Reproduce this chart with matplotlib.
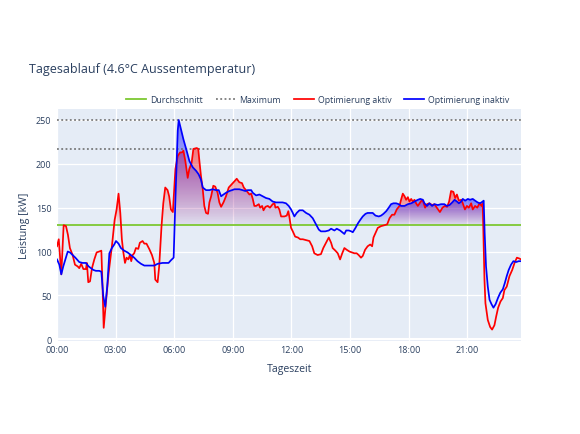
import numpy as np
import matplotlib.pyplot as plt
from matplotlib.colors import to_rgb
from matplotlib.patches import PathPatch

# Werte (Stunden, kW)
t_aktiv = [0.00, 0.09, 0.22, 0.34, 0.46, 0.56, 0.66, 0.80, 0.92, 1.06, 1.14, 1.24, 1.35, 1.48,
           1.53, 1.60, 1.69, 1.79, 1.91, 2.03, 2.16, 2.27, 2.32, 2.39, 2.50, 2.64, 2.81, 2.95,
           3.05, 3.15, 3.24, 3.32, 3.39, 3.48, 3.56, 3.65, 3.73, 3.80, 3.87, 3.95, 4.04, 4.16,
           4.24, 4.38, 4.47, 4.58, 4.72, 4.86, 4.98, 5.03, 5.15, 5.23, 5.35, 5.44, 5.54, 5.66,
           5.74, 5.83, 5.93, 6.06, 6.18, 6.30, 6.40, 6.47, 6.57, 6.69, 6.77, 6.89, 6.98, 7.15,
           7.23, 7.29, 7.37, 7.46, 7.54, 7.63, 7.73, 7.80, 7.89, 8.00, 8.10, 8.22, 8.31, 8.40,
           8.52, 8.65, 8.79, 8.96, 9.08, 9.20, 9.33, 9.47, 9.56, 9.71, 9.85, 9.94, 10.02, 10.10,
           10.19, 10.33, 10.40, 10.50, 10.57, 10.67, 10.79, 10.90, 11.04, 11.13, 11.18, 11.30,
           11.38, 11.47, 11.64, 11.76, 11.84, 11.89, 11.98, 12.07, 12.19, 12.33, 12.45, 12.58,
           12.75, 12.92, 13.06, 13.17, 13.34, 13.51, 13.63, 13.77, 13.91, 14.03, 14.11, 14.25,
           14.37, 14.49, 14.60, 14.71, 14.83, 14.97, 15.10, 15.22, 15.34, 15.44, 15.56, 15.65,
           15.77, 15.90, 16.03, 16.13, 16.20, 16.30, 16.42, 16.59, 16.76, 16.90, 17.02, 17.15,
           17.27, 17.39, 17.53, 17.61, 17.70, 17.79, 17.87, 17.96, 18.04, 18.13, 18.21, 18.30,
           18.38, 18.47, 18.59, 18.69, 18.76, 18.84, 18.94, 19.06, 19.20, 19.32, 19.44, 19.60,
           19.73, 19.85, 19.97, 20.07, 20.17, 20.29, 20.38, 20.47, 20.57, 20.69, 20.77, 20.88,
           20.98, 21.08, 21.20, 21.28, 21.40, 21.51, 21.63, 21.73, 21.79, 21.88, 21.93, 22.05,
           22.17, 22.27, 22.39, 22.48, 22.58, 22.70, 22.82, 22.90, 23.02, 23.16, 23.30, 23.42,
           23.54, 23.67, 23.75]
p_aktiv = [106, 114, 74, 130, 129, 119, 104, 96, 85, 83, 81, 86, 80, 80,
           87, 65, 66, 81, 91, 99, 100, 101, 68, 13, 41, 75, 106, 136,
           148, 166, 144, 114, 100, 87, 93, 91, 96, 89, 96, 98, 104, 103,
           110, 112, 109, 109, 103, 96, 87, 68, 65, 83, 129, 155, 173, 170,
           163, 148, 145, 194, 209, 213, 213, 215, 203, 184, 194, 201, 217, 218,
           217, 203, 186, 171, 152, 144, 143, 156, 163, 175, 174, 167, 156, 151,
           156, 163, 173, 177, 180, 183, 179, 178, 173, 169, 165, 166, 160, 152,
           152, 154, 150, 152, 147, 151, 152, 150, 154, 155, 150, 151,
           148, 140, 140, 141, 146, 140, 127, 123, 117, 116, 114, 114,
           113, 112, 106, 98, 96, 97, 104, 110, 116, 110, 104, 101,
           98, 91, 98, 104, 102, 100, 99, 98, 98, 96, 93, 95,
           102, 106, 108, 106, 116, 121, 127, 129, 130, 131, 138, 142,
           142, 148, 152, 159, 166, 163, 159, 162, 157, 160, 157, 159,
           155, 152, 156, 159, 156, 150, 154, 155, 153, 154, 150, 145,
           150, 152, 151, 157, 169, 168, 161, 165, 158, 159, 155, 148,
           152, 150, 155, 148, 152, 150, 155, 152, 155, 68, 41, 22,
           14, 11, 16, 26, 36, 43, 47, 56, 60, 72, 79, 87,
           93, 92, 91]

t_inaktiv = [0.00, 0.12, 0.22, 0.32, 0.43, 0.55, 0.66, 0.80, 0.94, 1.06, 1.14, 1.31, 1.48, 1.62,
             1.74, 1.86, 1.99, 2.16, 2.27, 2.37, 2.47, 2.57, 2.68, 2.81, 2.93, 3.02, 3.15, 3.27,
             3.44, 3.61, 3.78, 3.95, 4.12, 4.30, 4.47, 4.72, 4.98, 5.15, 5.40, 5.71, 5.83, 5.97,
             6.06, 6.18, 6.23, 6.35, 6.47, 6.61, 6.78, 6.95, 7.12, 7.25, 7.37, 7.46, 7.63, 7.80,
             7.97, 8.14, 8.28, 8.40, 8.52, 8.65, 8.82, 8.96, 9.08, 9.33, 9.50, 9.64, 9.76, 9.94,
             10.02, 10.19, 10.36, 10.53, 10.70, 10.87, 11.04, 11.21, 11.38, 11.55, 11.72, 11.86,
             11.98, 12.07, 12.15, 12.27, 12.41, 12.58, 12.75, 12.92, 13.09, 13.26, 13.40, 13.51,
             13.73, 13.91, 14.03, 14.20, 14.32, 14.49, 14.60, 14.71, 14.80, 14.94, 15.06, 15.14,
             15.28, 15.40, 15.52, 15.65, 15.79, 15.90, 16.03, 16.16, 16.30, 16.47, 16.59, 16.71,
             16.85, 16.98, 17.10, 17.22, 17.36, 17.49, 17.61, 17.79, 17.96, 18.13, 18.30, 18.47,
             18.59, 18.73, 18.81, 18.94, 19.06, 19.20, 19.32, 19.49, 19.66, 19.83, 19.95, 20.09,
             20.23, 20.35, 20.47, 20.57, 20.69, 20.77, 20.89, 21.03, 21.14, 21.28, 21.40, 21.53,
             21.65, 21.79, 21.84, 21.89, 21.96, 22.05, 22.14, 22.24, 22.34, 22.45, 22.57, 22.69,
             22.82, 22.92, 23.02, 23.12, 23.24, 23.36, 23.50, 23.63, 23.75]
p_inaktiv = [91, 85, 74, 83, 91, 100, 99, 96, 93, 90, 88, 87, 87, 83,
             81, 79, 78, 78, 77, 49, 37, 60, 98, 104, 108, 112, 109, 104,
             101, 99, 96, 93, 89, 86, 84, 84, 84, 86, 87, 87, 90, 93,
             159, 238, 250, 239, 228, 217, 203, 196, 192, 188, 182, 173, 170, 170,
             171, 170, 170, 163, 165, 167, 169, 170, 171, 171, 170, 169, 170, 170,
             167, 164, 165, 163, 161, 160, 157, 156, 156, 156, 155, 152,
             148, 144, 140, 144, 147, 147, 144, 142, 138, 131, 125, 123,
             123, 124, 126, 124, 126, 124, 122, 120, 124, 124, 123, 122,
             127, 132, 136, 140, 143, 144, 144, 144, 141, 140, 141, 143,
             146, 150, 154, 155, 155, 154, 152, 152, 154, 155, 157, 159,
             160, 159, 155, 152, 155, 152, 154, 153, 154, 154, 152, 153,
             156, 159, 157, 155, 157, 160, 158, 160, 159, 160, 158, 156,
             155, 157, 158, 121, 83, 60, 45, 40, 36, 40, 47, 53,
             57, 64, 72, 79, 85, 89, 88, 89, 89]

durchschnitt = 130
maxima = [250, 217]
xticks = [0, 3, 6, 9, 12, 15, 18, 21]
xlabels = ['00:00', '03:00', '06:00', '09:00', '12:00', '15:00', '18:00', '21:00']
yticks = [0, 50, 100, 150, 200, 250]

plt.rcParams['font.family'] = ['Open Sans', 'DejaVu Sans']
txt = '#2a3f5f'

fig = plt.figure(figsize=(5.8, 4.35), dpi=100)
ax = fig.add_axes([57 / 580, 1 - 342 / 435, 464 / 580, 232 / 435])
ax.set_facecolor('#E5ECF6')
for s in ax.spines.values():
    s.set_visible(False)


def gradient_fill(x, y, color):
    # Flaeche zwischen Kurve und Durchschnitt, Verlauf je Abschnitt
    x = np.asarray(x, float)
    y = np.asarray(y, float)
    coll = ax.fill_between(x, durchschnitt, y, where=y > durchschnitt, interpolate=True)
    paths = coll.get_paths()
    coll.remove()
    rgb = to_rgb(color)
    for path in paths:
        v = path.vertices
        top = v[:, 1].max()
        if top - durchschnitt < 1:
            continue
        a = np.linspace(0.03, 0.5, 256)
        img = np.zeros((256, 1, 4))
        img[..., :3] = rgb
        img[:, 0, 3] = a
        im = ax.imshow(img, extent=[v[:, 0].min(), v[:, 0].max(), durchschnitt, top],
                       origin='lower', aspect='auto', zorder=1, interpolation='bilinear')
        patch = PathPatch(path, transform=ax.transData, facecolor='none', edgecolor='none')
        ax.add_patch(patch)
        im.set_clip_path(patch)


gradient_fill(t_aktiv, p_aktiv, 'red')
gradient_fill(t_inaktiv, p_inaktiv, 'blue')

ax.axhline(durchschnitt, color='#7DC832', lw=1.3, zorder=3, label='Durchschnitt')
for i, m in enumerate(maxima):
    ax.axhline(m, color='#666666', lw=1.1, ls=(0, (1.2, 1.6)), zorder=3,
               label='Maximum' if i == 0 else None)
ax.plot(t_aktiv, p_aktiv, color='red', lw=1.25, zorder=4, label='Optimierung aktiv')
ax.plot(t_inaktiv, p_inaktiv, color='blue', lw=1.25, zorder=5, label='Optimierung inaktiv')

ax.set_xlim(0, 23.75)
ax.set_ylim(-2, 262.5)
ax.set_xticks(xticks, xlabels)
ax.set_yticks(yticks)
ax.grid(True, color='white', lw=0.9, zorder=0)
ax.set_axisbelow(True)
ax.axhline(0, color='white', lw=1.5, zorder=0.5)
ax.tick_params(length=0, labelsize=6.5, labelcolor=txt)
ax.tick_params(axis='x', pad=3)
ax.tick_params(axis='y', pad=4)

fig.text(29 / 580, 1 - 70 / 435, 'Tagesablauf (4.6°C Aussentemperatur)', fontsize=9,
         color=txt, va='center', ha='left')
fig.text(290 / 580, 1 - 370 / 435, 'Tageszeit', fontsize=7.6, color=txt, ha='center', va='center')
fig.text(24 / 580, 1 - 226 / 435, 'Leistung [kW]', fontsize=7.6, color=txt, ha='center',
         va='center', rotation=90)

leg = ax.legend(loc='lower right', bbox_to_anchor=(0.985, 1.0), ncol=4, frameon=False,
                fontsize=6.3, handlelength=2.3, handletextpad=0.4, columnspacing=1.5,
                borderaxespad=0.15)
for t in leg.get_texts():
    t.set_color(txt)

fig.savefig('out.png', dpi=100)
